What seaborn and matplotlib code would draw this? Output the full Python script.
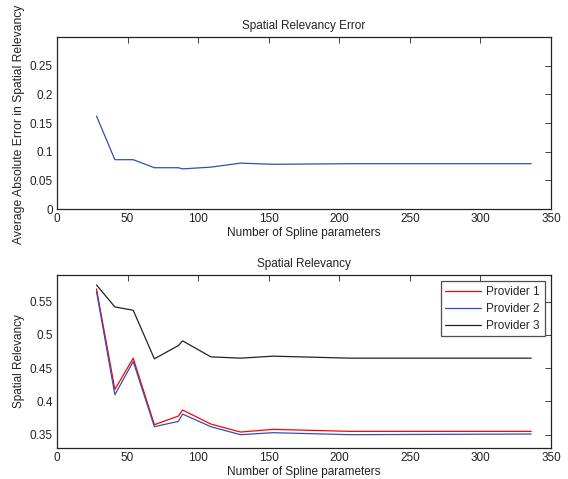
#! /usr/bin/env python3

import numpy as np
import pandas as pd
import seaborn as sns
import matplotlib
matplotlib.use("Agg")
import matplotlib.pyplot as plt

sns.set_style("white")
plt.rcParams['font.family'] = ['Liberation Sans', 'DejaVu Sans']

# number of spline parameters
n_params = [28, 41, 54, 69, 86, 89, 109, 130, 153, 208, 336]

# average absolute error in spatial relevancy
avg_error = [0.162, 0.086, 0.086, 0.072, 0.072, 0.070, 0.073, 0.080, 0.078, 0.079, 0.079]

# spatial relevancy per provider
provider1 = [0.569, 0.418, 0.465, 0.365, 0.378, 0.387, 0.366, 0.354, 0.358, 0.355, 0.355]
provider2 = [0.565, 0.410, 0.460, 0.362, 0.370, 0.381, 0.362, 0.350, 0.353, 0.350, 0.351]
provider3 = [0.575, 0.542, 0.537, 0.464, 0.484, 0.491, 0.467, 0.465, 0.468, 0.465, 0.465]
providers = ["Provider 1", "Provider 2", "Provider 3"]

err_df = pd.DataFrame({"n": n_params, "err": avg_error})
rel_df = pd.DataFrame({
    "n": n_params * 3,
    "rel": provider1 + provider2 + provider3,
    "provider": [p for p in providers for _ in n_params],
})

fig = plt.figure(figsize=(5.68, 4.79), dpi=100)
ax1 = fig.add_axes([57 / 568, 1 - 209 / 479, 494 / 568, 172 / 479])
ax2 = fig.add_axes([57 / 568, 1 - 448 / 479, 494 / 568, 173 / 479])

sns.lineplot(data=err_df, x="n", y="err", ax=ax1, color="#2f52b0", lw=0.9)
sns.lineplot(data=rel_df, x="n", y="rel", hue="provider", ax=ax2,
             palette=["#ff0000", "#2f52b0", "#222222"], lw=0.9)

fs = 8.5
for ax in (ax1, ax2):
    ax.set_xlim(0, 350)
    ax.set_xticks(np.arange(0, 351, 50))
    ax.tick_params(direction="in", length=4, width=0.6, top=True, right=True,
                   labelsize=fs, pad=3, colors="#222222")
    for s in ax.spines.values():
        s.set_color("#222222")
        s.set_linewidth(0.9)
    ax.set_xlabel("Number of Spline parameters", fontsize=fs, labelpad=1, color="#222222")

ax1.set_ylim(0, 0.3)
ax1.set_yticks([0, 0.05, 0.1, 0.15, 0.2, 0.25])
ax1.set_yticklabels(["0", "0.05", "0.1", "0.15", "0.2", "0.25"])
ax1.set_title("Spatial Relevancy Error", fontsize=fs, pad=6, color="#222222")
ax1.set_ylabel("Average Absolute Error in Spatial Relevancy", fontsize=8.7, color="#222222")
ax1.yaxis.set_label_coords(-0.064, 0.494)

ax2.set_ylim(0.33, 0.59)
ax2.set_yticks([0.35, 0.4, 0.45, 0.5, 0.55])
ax2.set_yticklabels(["0.35", "0.4", "0.45", "0.5", "0.55"])
ax2.set_title("Spatial Relevancy", fontsize=fs, pad=6, color="#222222")
ax2.set_ylabel("Spatial Relevancy", fontsize=fs, color="#222222")
ax2.yaxis.set_label_coords(-0.064, 0.5)

leg = ax2.legend(loc="upper right", fontsize=fs, frameon=True, fancybox=False,
                 edgecolor="#222222", borderaxespad=0.55, handlelength=3.0,
                 labelspacing=0.4, borderpad=0.4, handletextpad=0.45)
leg.set_title(None)
leg.get_frame().set_linewidth(0.9)

fig.savefig("out.png", dpi=100)
